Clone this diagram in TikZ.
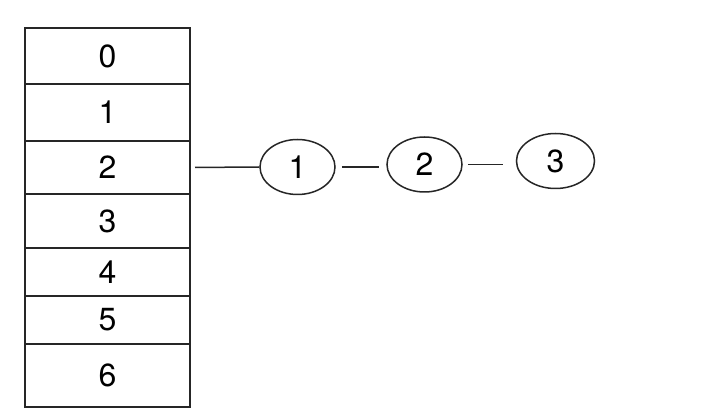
\documentclass[tikz,border=0pt]{standalone}
\usepackage{fontspec}
\setmainfont{TeX Gyre Heros}
\usetikzlibrary{shapes.geometric}
\begin{document}
\begin{tikzpicture}[x=1pt,y=-1pt,
  cell/.style={draw=black!85,line width=2pt,minimum width=165pt,inner sep=0pt,font=\fontsize{32}{32}\selectfont},
  elem/.style={draw=black!85,line width=1.5pt,ellipse,inner sep=0pt,font=\fontsize{32}{32}\selectfont},
  link/.style={draw=black!85,line width=1.5pt}]
\useasboundingbox (0,0) rectangle (704,419);
\node[cell,minimum height=56pt] (r0) at (107.5,56) {0};
\node[cell,minimum height=57pt] (r1) at (107.5,112.5) {1};
\node[cell,minimum height=53pt] (r2) at (107.5,167.5) {2};
\node[cell,minimum height=54pt] (r3) at (107.5,221) {3};
\node[cell,minimum height=48pt] (r4) at (107.5,272) {4};
\node[cell,minimum height=48pt] (r5) at (107.5,320) {5};
\node[cell,minimum height=63pt] (r6) at (107.5,375.5) {6};
\node[elem,minimum width=75pt,minimum height=55pt] (e1) at (297.5,167) {1};
\node[elem,minimum width=75pt,minimum height=55pt] (e2) at (424.5,164.5) {2};
\node[elem,minimum width=78pt,minimum height=55pt] (e3) at (555.5,161) {3};
\draw[link,shorten <=4pt] (r2.east) -- (e1.west);
\draw[link,shorten <=6pt,shorten >=7pt] (e1.east) -- (e1.east -| e2.west);
\draw[link,shorten <=5pt,shorten >=13pt] (e2.east) -- (e2.east -| e3.west);
\end{tikzpicture}
\end{document}
